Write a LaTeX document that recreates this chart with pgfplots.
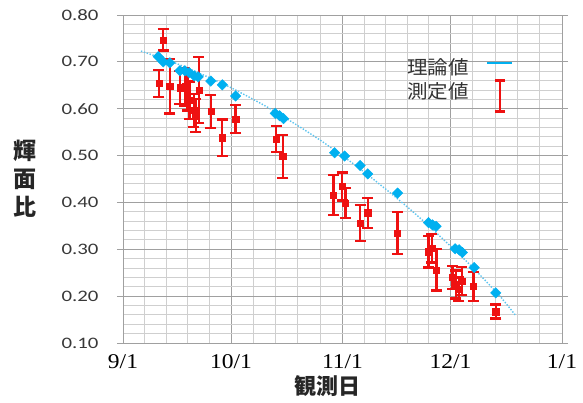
\documentclass[border=0pt]{standalone}
\usepackage{fontspec}
\usepackage{pgfplots}
\usepackage{pgfplotstable}
\pgfplotsset{compat=1.18}
\newfontfamily\cjk{Noto Sans CJK JP}
\newfontfamily\cjkleg{Noto Sans CJK JP}[FakeStretch=1.08]
\newfontfamily\calib{Carlito}[FakeStretch=1.3]
\newfontfamily\tnr{Liberation Serif}[FakeStretch=1.12]
\definecolor{tblue}{HTML}{00B0F0}
\definecolor{trend}{HTML}{5CC3EE}
\definecolor{mred}{HTML}{EE1111}
\definecolor{majgrid}{HTML}{A0A0A0}
\definecolor{mingrid}{HTML}{CFCFCF}

\pgfplotstableread{
x y
9.8 0.711
11.2 0.700
13.0 0.698
15.8 0.681
17.2 0.681
18.4 0.677
19.8 0.670
20.9 0.668
24.4 0.659
27.6 0.651
31.3 0.627
42.3 0.590
43.5 0.585
44.6 0.579
58.8 0.506
61.6 0.499
65.9 0.479
68.0 0.461
76.3 0.420
84.9 0.357
86.0 0.352
87.0 0.349
92.3 0.301
93.4 0.299
94.3 0.293
97.6 0.261
103.6 0.207
}\theory

\pgfplotstableread{
x y
5 0.723
10 0.710
15 0.696
20 0.680
25 0.663
30 0.645
35 0.625
40 0.604
45 0.581
50 0.557
55 0.532
60 0.505
65 0.477
70 0.447
75 0.416
80 0.384
85 0.350
90 0.314
95 0.278
100 0.239
105 0.198
109 0.160
}\trendline

\pgfplotstableread{
x y e
10.0 0.654 0.029
11.2 0.747 0.023
13.0 0.648 0.058
15.8 0.645 0.035
17.2 0.647 0.040
17.9 0.636 0.040
18.5 0.618 0.040
19.7 0.596 0.035
20.2 0.585 0.035
21.1 0.640 0.070
24.4 0.594 0.035
27.6 0.538 0.039
31.3 0.578 0.030
42.6 0.535 0.028
44.4 0.498 0.046
58.5 0.416 0.043
60.9 0.434 0.030
61.8 0.399 0.032
65.9 0.356 0.039
68.0 0.378 0.032
76.3 0.335 0.045
84.9 0.295 0.034
85.8 0.302 0.030
87.1 0.256 0.044
91.6 0.240 0.025
92.5 0.225 0.030
93.3 0.215 0.025
94.2 0.232 0.030
97.4 0.221 0.031
103.6 0.167 0.015
}\measured

\begin{document}
\begin{tikzpicture}
\useasboundingbox (0,0) rectangle (583pt,403pt);
\begin{axis}[
  at={(123pt,60pt)}, anchor=south west,
  scale only axis, width=439pt, height=328pt,
  xmin=0, xmax=122, ymin=0.1, ymax=0.8,
  xtick={0,30,61,91,122},
  xticklabels={9/1,10/1,11/1,12/1,1/1},
  minor xtick={6,12,18,24,36.2,42.4,48.6,54.8,67,73,79,85,97.2,103.4,109.6,115.8},
  ytick={0.1,0.2,0.3,0.4,0.5,0.6,0.7,0.8},
  minor ytick={0.12,0.14,0.16,0.18,0.22,0.24,0.26,0.28,0.32,0.34,0.36,0.38,0.42,0.44,0.46,0.48,0.52,0.54,0.56,0.58,0.62,0.64,0.66,0.68,0.72,0.74,0.76,0.78},
  grid=both,
  major grid style={majgrid, line width=0.9pt},
  minor grid style={mingrid, line width=0.9pt},
  axis line style={majgrid, line width=0.9pt},
  tick align=outside, major tick length=6pt, minor tick length=0pt,
  tick style={majgrid, line width=0.9pt},
  xtick style={draw=none},
  /pgf/number format/assume math mode=true,
  yticklabel style={font=\calib\fontsize{16}{16}\selectfont, text=black!78,
    /pgf/number format/fixed, /pgf/number format/fixed zerofill,
    /pgf/number format/precision=2, xshift=-15pt},
  xticklabel style={font=\tnr\fontsize{21}{21}\selectfont, yshift=-2pt},
  xlabel={観測日},
  xlabel style={font=\cjk\bfseries\fontsize{22}{22}\selectfont, text=black!85,
    at={(axis description cs:0.465,0)}, anchor=center, yshift=-43pt},
  ylabel={輝\\面\\比},
  ylabel style={font=\cjk\bfseries\fontsize{23}{28}\selectfont, text=black!85,
    align=center, at={(axis description cs:0,0.5)}, anchor=center,
    rotate=-90, xshift=-98pt},
  legend plot pos=right,
  legend style={draw=none, fill=none, inner sep=0pt,
    at={(axis description cs:0.645,0.872)}, anchor=north west,
    font=\cjkleg\fontsize{19}{19}\selectfont, text=black!80,
    nodes={inner sep=1pt}, row sep=5pt},
  error bars/error bar style={line width=2.3pt, draw=mred},
  error bars/error mark options={rotate=90, mark size=5.5pt, line width=2.3pt, draw=mred},
]
\addlegendimage{legend image code/.code={\draw[draw=tblue, line width=2.6pt] (17pt,4pt) -- (42pt,4pt);}}
\addlegendentry{理論値}
\addlegendimage{legend image code/.code={
  \draw[overlay, draw=mred, line width=2.5pt] (30pt,-20pt) -- (30pt,11pt);
  \draw[overlay, draw=mred, line width=2.5pt] (25pt,-20pt) -- (35pt,-20pt) (25pt,11pt) -- (35pt,11pt);
  \path[draw=none, fill=none] (0pt,-5pt) rectangle (42pt,5pt);}}
\addlegendentry{測定値}

\addplot[forget plot, draw=trend, line width=1.4pt, dash pattern=on 1.4pt off 1.6pt] table[x=x, y=y] {\trendline};

\addplot[forget plot, only marks, mark=square*, mark size=3.1pt, color=mred,
  mark options={draw=mred, fill=mred},
  error bars/y dir=both, error bars/y explicit]
  table[x=x, y=y, y error=e] {\measured};

\addplot[forget plot, only marks, mark=square*, mark size=3.7pt,
  mark options={rotate=45, draw=tblue, fill=tblue}]
  table[x=x, y=y] {\theory};
\end{axis}
\end{tikzpicture}
\end{document}
